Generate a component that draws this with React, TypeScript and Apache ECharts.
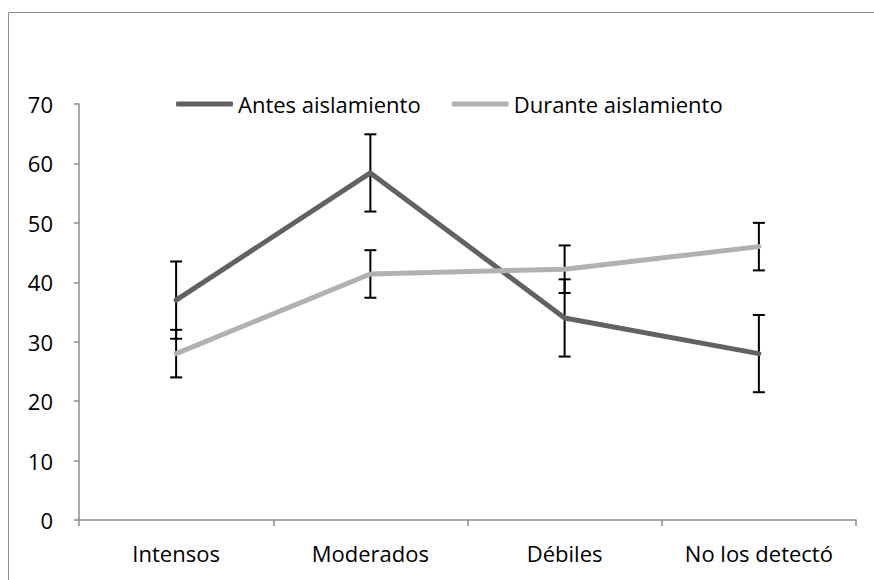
import React, { useEffect, useRef } from "react";
import * as echarts from "echarts";

const categories = ["Intensos", "Moderados", "Débiles", "No los detectó"];
const antesValues = [37, 58.4, 34, 28];
const antesErrors = [6.5, 6.5, 6.5, 6.5];
const duranteValues = [28, 41.4, 42.2, 46];
const duranteErrors = [4, 4, 4, 4];
const yTicks = { min: 0, max: 70, interval: 10 };

const FONT = "Open Sans";
const FONT_SIZE = 22;
const AXIS_GRAY = "#8c8c8c";
const ANTES_COLOR = "#626262";
const DURANTE_COLOR = "#b1b1b1";

function errorSeries(values: number[], errors: number[], name: string) {
  const data = values.map((v, i) => [i, v - errors[i], v + errors[i]]);
  return {
    type: "custom",
    name,
    z: 1,
    silent: true,
    data,
    renderItem: (_params: any, api: any) => {
      const idx = api.value(0);
      const lo = api.coord([idx, api.value(1)]);
      const hi = api.coord([idx, api.value(2)]);
      const half = 6;
      const style = { stroke: "#000", lineWidth: 2 };
      return {
        type: "group",
        children: [
          { type: "line", shape: { x1: lo[0], y1: lo[1], x2: hi[0], y2: hi[1] }, style },
          { type: "line", shape: { x1: hi[0] - half, y1: hi[1], x2: hi[0] + half, y2: hi[1] }, style },
          { type: "line", shape: { x1: lo[0] - half, y1: lo[1], x2: lo[0] + half, y2: lo[1] }, style },
        ],
      };
    },
  };
}

export default function App() {
  const ref = useRef<HTMLDivElement>(null);

  useEffect(() => {
    if (!ref.current) return;
    const chart = echarts.init(ref.current, null, { renderer: "svg" });
    chart.setOption({
      animation: false,
      backgroundColor: "#fff",
      textStyle: { fontFamily: FONT },
      graphic: [
        {
          type: "rect",
          shape: { x: 8.5, y: 12.5, width: 900, height: 700 },
          style: { fill: "none", stroke: AXIS_GRAY, lineWidth: 1 },
          silent: true,
          z: -10,
        },
      ],
      legend: {
        left: 171,
        top: 88,
        icon: "roundRect",
        itemWidth: 57,
        itemHeight: 5,
        itemGap: 31,
        textStyle: { fontFamily: FONT, fontSize: FONT_SIZE, color: "#000" },
        data: [
          { name: "Antes aislamiento", itemStyle: { color: ANTES_COLOR } },
          { name: "Durante aislamiento", itemStyle: { color: DURANTE_COLOR } },
        ],
      },
      grid: { left: 79, right: 18, top: 104, bottom: 60, containLabel: false },
      xAxis: {
        type: "category",
        data: categories,
        boundaryGap: true,
        axisLine: { lineStyle: { color: AXIS_GRAY, width: 1.5 } },
        axisTick: { show: true, length: 6, alignWithLabel: false, lineStyle: { color: AXIS_GRAY, width: 1.5 } },
        axisLabel: { color: "#000", fontSize: FONT_SIZE, fontFamily: FONT, margin: 22 },
        splitLine: { show: false },
      },
      yAxis: {
        type: "value",
        min: yTicks.min,
        max: yTicks.max,
        interval: yTicks.interval,
        axisLine: { show: true, lineStyle: { color: AXIS_GRAY, width: 1.5 } },
        axisTick: { show: true, length: 5, lineStyle: { color: AXIS_GRAY, width: 1.5 } },
        axisLabel: { color: "#000", fontSize: FONT_SIZE, fontFamily: FONT, margin: 26 },
        splitLine: { show: false },
      },
      series: [
        errorSeries(antesValues, antesErrors, "antesErr"),
        errorSeries(duranteValues, duranteErrors, "duranteErr"),
        {
          type: "line",
          name: "Antes aislamiento",
          data: antesValues,
          z: 3,
          symbol: "none",
          color: ANTES_COLOR,
          lineStyle: { color: ANTES_COLOR, width: 5, cap: "round", join: "round" },
        },
        {
          type: "line",
          name: "Durante aislamiento",
          data: duranteValues,
          z: 4,
          symbol: "none",
          color: DURANTE_COLOR,
          lineStyle: { color: DURANTE_COLOR, width: 5, cap: "round", join: "round" },
        },
      ],
    });
    return () => chart.dispose();
  }, []);

  return <div ref={ref} style={{ width: 874, height: 580, position: "absolute", left: 0, top: 0 }} />;
}
